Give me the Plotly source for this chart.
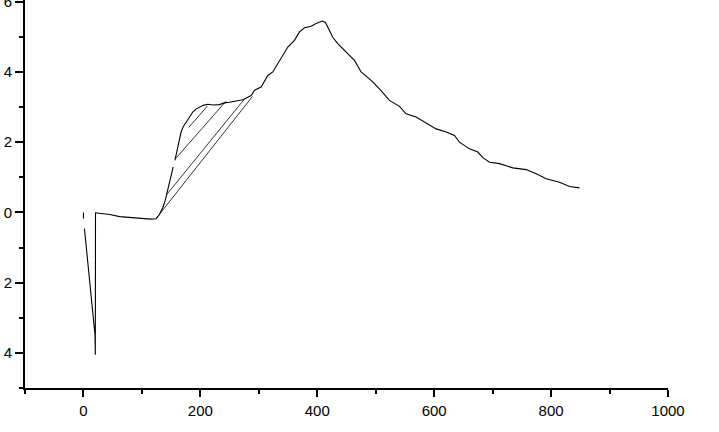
import plotly.graph_objects as go

# ---- data ----
start_x = [0, 0]
start_y = [0, -0.17]

dip_x = [1.7, 19.8, 20.3, 20.6]
dip_y = [-0.46, -3.5, -4.05, -0.01]

curve_a_x = [20.6, 30, 45, 62, 80, 100, 115, 124, 130, 136, 140, 144, 148, 153.5]
curve_a_y = [-0.01, -0.03, -0.06, -0.12, -0.15, -0.17, -0.19, -0.18, -0.06, 0.15, 0.35, 0.63, 0.9, 1.3]

curve_b_x = [156.5, 161, 164, 167, 171, 175.5, 181, 187, 193, 198.5, 205, 212.7, 222, 232.7,
             241, 249.8, 260, 272.6, 287, 292.6, 304, 315.4, 323.9, 332.5, 341, 349.6, 361,
             369.6, 378.1, 389.5, 398.1, 408.4, 414, 419.7, 426.5, 435.1, 449.4, 463.6, 475,
             492.1, 506.4, 523.5, 540.6, 552, 569, 586.3, 603.4, 620.5, 634.7, 643.3, 660.4,
             674.6, 683.2, 694.6, 711.7, 734.5, 757.4, 774.5, 791.6, 814.5, 831.5, 848.6]
curve_b_y = [1.48, 1.86, 2.1, 2.29, 2.45, 2.57, 2.73, 2.86, 2.95, 3.0, 3.05, 3.08, 3.06, 3.07,
             3.12, 3.14, 3.17, 3.21, 3.33, 3.48, 3.57, 3.90, 4.0, 4.24, 4.45, 4.71, 4.90,
             5.14, 5.26, 5.30, 5.38, 5.45, 5.41, 5.23, 4.99, 4.81, 4.57, 4.33, 4.0,
             3.76, 3.52, 3.19, 3.02, 2.81, 2.72, 2.54, 2.38, 2.29, 2.19, 2.0, 1.81,
             1.72, 1.56, 1.43, 1.39, 1.27, 1.22, 1.10, 0.96, 0.86, 0.74, 0.70]

# hatch segments (start / end)
hatch_x0 = [124, 142, 157.4, 180]
hatch_y0 = [-0.18, 0.5, 1.53, 2.42]
hatch_x1 = [289, 275, 244, 212]
hatch_y1 = [3.3, 3.22, 3.17, 3.03]

y_tickvals = [-4, -2, 0, 2, 4, 6]
y_ticktext = ["4", "2", "0", "2", "4", "6"]
y_minor = [-5, -3, -1, 1, 3, 5]
x_tickvals = [0, 200, 400, 600, 800, 1000]
x_ticktext = ["0", "200", "400", "600", "800", "1000"]
x_minor = [-100, 100, 300, 500, 700, 900]

# ---- build traces ----
main_x = start_x + [None] + dip_x + curve_a_x[1:] + [None] + curve_b_x
main_y = start_y + [None] + dip_y + curve_a_y[1:] + [None] + curve_b_y

hx, hy = [], []
for a, b, c, d in zip(hatch_x0, hatch_y0, hatch_x1, hatch_y1):
    hx += [a, c, None]
    hy += [b, d, None]

fig = go.Figure()
fig.add_trace(go.Scatter(x=main_x, y=main_y, mode="lines",
                         line=dict(color="black", width=1.1), hoverinfo="skip"))
fig.add_trace(go.Scatter(x=hx, y=hy, mode="lines",
                         line=dict(color="black", width=0.8), hoverinfo="skip"))

font = dict(family="Liberation Sans, Arial, sans-serif", size=15, color="black")

fig.update_layout(
    width=719, height=432,
    margin=dict(l=25, r=51, t=0, b=44, autoexpand=False),
    paper_bgcolor="white", plot_bgcolor="white",
    showlegend=False,
    font=font,
    xaxis=dict(range=[-100, 1000], showgrid=False, zeroline=False,
               showline=True, linecolor="black", linewidth=1.5,
               ticks="outside", ticklen=7, tickwidth=1.5, tickcolor="black",
               tickvals=x_tickvals, ticktext=x_ticktext, ticklabelstandoff=1,
               ticklabeloverflow="allow",
               minor=dict(tickvals=x_minor, ticks="outside", ticklen=4,
                          tickwidth=1.5, tickcolor="black", showgrid=False),
               automargin=False, fixedrange=True),
    yaxis=dict(range=[-5, 6.05], showgrid=False, zeroline=False,
               showline=True, linecolor="black", linewidth=2,
               ticks="outside", ticklen=8, tickwidth=1.5, tickcolor="black",
               tickvals=y_tickvals, ticktext=y_ticktext, ticklabelstandoff=0,
               ticklabeloverflow="allow",
               minor=dict(tickvals=y_minor, ticks="outside", ticklen=4,
                          tickwidth=1.5, tickcolor="black", showgrid=False),
               automargin=False, fixedrange=True),
)

fig.write_html("out.html", config={"displayModeBar": False},
               post_script="document.body.style.margin='0';document.body.style.padding='0';")
